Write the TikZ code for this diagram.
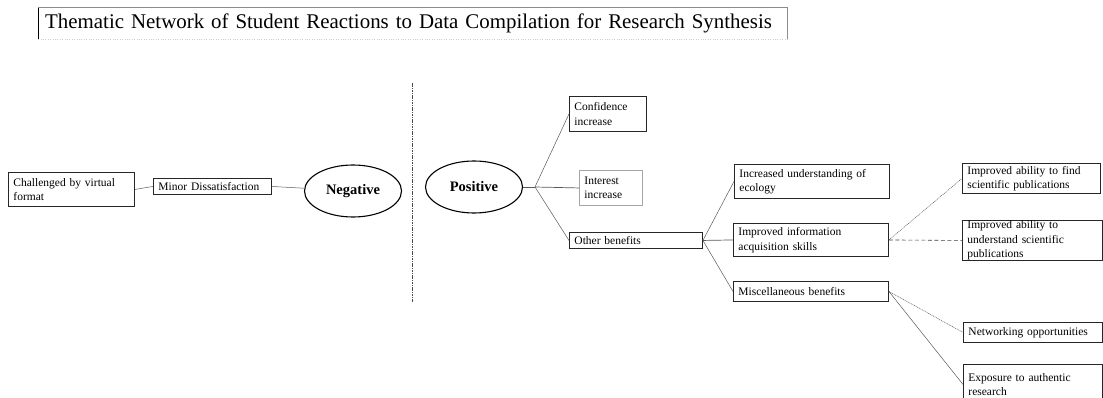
\documentclass[tikz,border=0pt]{standalone}
\usepackage{fontspec}
\setmainfont{Liberation Serif}
\usetikzlibrary{shapes.geometric}
\begin{document}
\begin{tikzpicture}[x=1pt,y=-1pt,
  bx/.style n args={2}{draw=black!85, line width=0.9pt, anchor=north west, align=left,
     inner xsep=5pt, inner ysep=0pt, text width=#1pt, minimum height=#2pt,
     font=\fontsize{11.5}{14.5}\selectfont},
  oval/.style={ellipse, draw=black, line width=1.1pt, minimum width=97pt, minimum height=52pt,
     inner sep=0pt, font=\fontsize{14.5}{16}\selectfont\bfseries},
  conn/.style={draw=black!65, line width=0.5pt},
  dotc/.style={draw=black!65, line width=0.5pt, dash pattern=on 1pt off 0.8pt},
  dashc/.style={draw=black!75, line width=0.6pt, dash pattern=on 4pt off 2.5pt}
]
\useasboundingbox (0,0) rectangle (1103,398);

% title
\node[anchor=north west, minimum width=749pt, minimum height=32pt, inner xsep=7pt,
      text width=735pt, align=left, font=\fontsize{20.9}{23}\selectfont] (title) at (38,7)
  {Thematic Network of Student Reactions to Data Compilation for Research Synthesis};
\draw[black, line width=0.8pt] (title.south west) -- (title.north west);
\draw[black!45, line width=0.5pt] (title.north west) -- (title.north east) -- (title.south east);
\draw[black!20, line width=0.4pt, dotted] (title.south east) -- (title.south west);

% divider
\coordinate (dtop) at (412,83);
\coordinate (dbot) at (412,302);
\draw[black!70, line width=0.6pt, dash pattern=on 1.6pt off 0.8pt] (dtop) -- (dbot);

% negative side
\node[bx={116}{34}] (chal) at (8,172) {Challenged by virtual\\format};
\node[bx={108}{16}] (minor) at (153,178) {Minor Dissatisfaction};
\node[oval] (neg) at (353,191) {Negative};

% positive side
\node[oval] (pos) at (474,187) {Positive};
\coordinate (hp) at (535,187);
\node[bx={67}{35}] (conf) at (569,96) {Confidence\\increase};
\node[bx={53}{35}, draw=black!35] (int) at (579,170) {Interest\\increase};
\node[bx={123}{16}] (other) at (569,232) {Other benefits};

\node[bx={145}{34}] (ecol) at (734,164) {Increased understanding of\\ecology};
\node[bx={145}{33}] (info) at (733,223) {Improved information\\acquisition skills};
\node[bx={145}{20}] (misc) at (733,281) {Miscellaneous benefits};

\node[bx={128}{30}] (find) at (962,163) {Improved ability to find\\scientific publications};
\node[bx={130}{40}] (under) at (962,220) {Improved ability to\\understand scientific\\publications};
\node[bx={129}{20}] (net) at (963,322) {Networking opportunities};
\node[bx={129}{40}] (expo) at (963,364) {Exposure to authentic\\research};

% connectors
\draw[conn] (chal.east) -- (minor.west);
\draw[conn] (minor.east) -- (neg);
\draw[conn, line width=0.7pt] (pos.east) -- (hp);
\draw[conn] (hp) -- (conf.west);
\draw[conn, line width=0.7pt] (hp) -- (int.west);
\draw[conn] (hp) -- (other.west);
\draw[conn] (other.east) -- (ecol.west);
\draw[conn, line width=0.7pt] (other.east) -- (info.west);
\draw[conn] (other.east) -- (misc.west);
\draw[dotc] (info.east) -- (find.west);
\draw[dashc] (info.east) -- (under.west);
\draw[dotc] (misc.east) -- (net.west);
\draw[conn] (misc.east) -- (expo.west);
\end{tikzpicture}
\end{document}
